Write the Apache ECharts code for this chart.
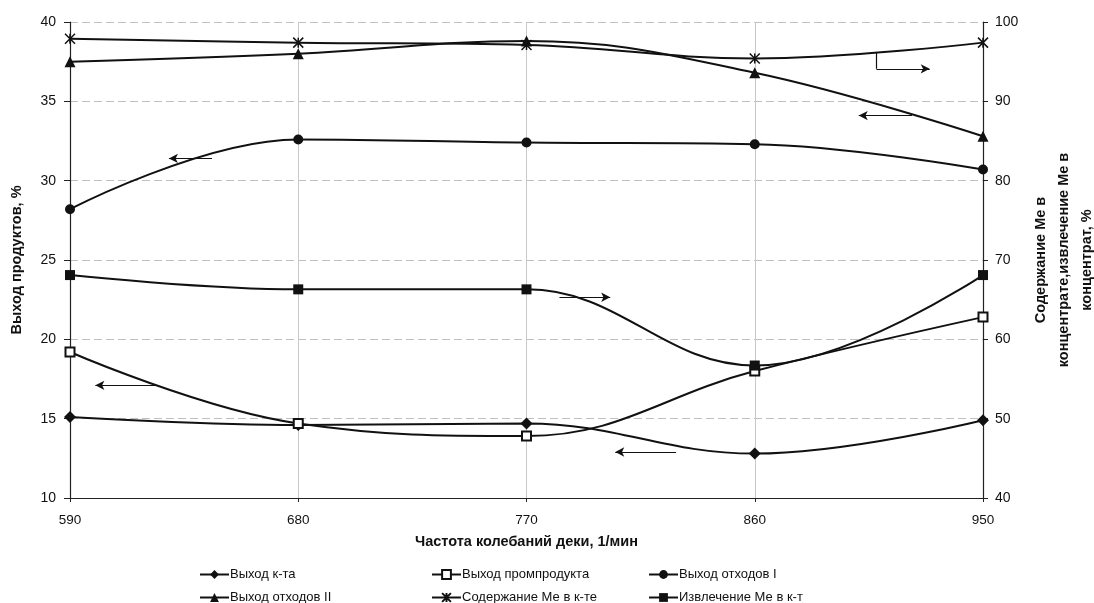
<!DOCTYPE html>
<html><head><meta charset="utf-8">
<script src="https://cdn.jsdelivr.net/npm/echarts@6/dist/echarts.min.js"></script>
<style>html,body{margin:0;padding:0;background:#fff;}#c{width:1094px;height:603px;}</style>
</head><body><div id="c"></div>
<script>
const freq = [590, 680, 770, 860, 950];
const vyhodKta = [15.1, 14.6, 14.7, 12.8, 14.9];
const vyhodProm = [19.2, 14.7, 13.9, 18.0, 21.4];
const vyhodOtkh1 = [28.2, 32.6, 32.4, 32.3, 30.7];
const vyhodOtkh2 = [37.5, 38.0, 38.8, 36.8, 32.8];
const soderzhanie = [97.9, 97.4, 97.1, 95.4, 97.4];
const izvlechenie = [68.1, 66.3, 66.3, 56.7, 68.1];
const names = ['Выход к-та','Выход промпродукта','Выход отходов I','Выход отходов II','Содержание Ме в к-те','Извлечение Ме в к-т'];

// annotation arrows (data coords): [x1,y1,x2,y2]
const arrowLeft = [
  [646, 31.4, 629, 31.4],   // отходы I
  [922, 34.1, 901, 34.1],   // отходы II
  [624, 17.1, 600, 17.1],   // промпродукт
  [829, 12.9, 805, 12.9]    // к-та
];
const arrowRight = [
  [783, 65.3, 803, 65.3],   // извлечение
  [908, 94.1, 929, 94.1]    // содержание
];
const bracketSeg = [[908, 96.2, 908, 94.1]];

const pair = (p) => [{coord:[p[0],p[1]]},{coord:[p[2],p[3]]}];
const zip = (ys) => freq.map((x,i)=>[x, ys[i]]);
const BLK = '#111';
const starPath = 'path://M0,0L10,10M10,0L0,10M5,0L5,10';

function mk(name, data, yIdx, symbol, size, extra) {
  return Object.assign({
    name, type:'line', data: zip(data), yAxisIndex: yIdx, smooth: 0.4,
    symbol, symbolSize: size, showSymbol: true,
    lineStyle:{color:BLK, width:2}, itemStyle:{color:BLK}, z: 3
  }, extra || {});
}
const mlBase = {silent:true, symbolSize:[7,9], label:{show:false}, lineStyle:{color:BLK, width:1.2, type:'solid'}, emphasis:{disabled:true}};

const series = [
  mk(names[0], vyhodKta, 0, 'diamond', 12, {markLine: Object.assign({}, mlBase, {symbol:['none','arrow'], data: arrowLeft.map(pair)})}),
  mk(names[1], vyhodProm, 0, 'emptyRect', 9, {itemStyle:{color:BLK, borderColor:BLK, borderWidth:1.2}}),
  mk(names[2], vyhodOtkh1, 0, 'circle', 10),
  mk(names[3], vyhodOtkh2, 0, 'triangle', 11),
  mk(names[4], soderzhanie, 1, starPath, 10, {itemStyle:{color:'#fff', borderColor:BLK, borderWidth:1.5},
     markLine: Object.assign({}, mlBase, {symbol:['none','none'], data: bracketSeg.map(pair)})}),
  mk(names[5], izvlechenie, 1, 'rect', 10, {markLine: Object.assign({}, mlBase, {symbol:['none','arrow'], data: arrowRight.map(pair)})})
];

const legendCommon = {orient:'vertical', top:568, height:60, padding:0, itemGap:10, itemWidth:29, itemHeight:11,
  textStyle:{fontFamily:'Liberation Sans, Arial', fontSize:13, color:'#111', padding:[0,0,0,-4]}, selectedMode:false};

const chart = echarts.init(document.getElementById('c'), null, {renderer:'canvas'});
chart.setOption({
  animation:false,
  backgroundColor:'#fff',
  textStyle:{fontFamily:'Liberation Sans, Arial'},
  grid:{left:70, right:111, top:22, bottom:105, containLabel:false, outerBoundsMode:'none'},
  xAxis:{type:'value', min:590, max:950, interval:90,
    name:'Частота колебаний деки, 1/мин', nameLocation:'middle', nameGap:36,
    nameTextStyle:{fontWeight:'bold', fontSize:14.5, color:'#111'},
    axisLine:{lineStyle:{color:'#222', width:1.2}},
    axisTick:{show:true, length:4, lineStyle:{color:'#222'}},
    axisLabel:{fontSize:13.5, color:'#111', margin:15},
    splitLine:{show:true, lineStyle:{color:'#c8c8c8', width:1}}},
  yAxis:[
    {type:'value', min:10, max:40, interval:5, position:'left',
     name:'Выход продуктов, %', nameLocation:'middle', nameGap:46, nameRotate:90,
     nameTextStyle:{fontWeight:'bold', fontSize:14.5, color:'#111'},
     axisLine:{show:true, lineStyle:{color:'#222', width:1.2}},
     axisTick:{show:true, length:6, lineStyle:{color:'#222'}},
     axisLabel:{fontSize:14, color:'#111', margin:14},
     splitLine:{show:true, lineStyle:{color:'#c0c0c0', type:[8,4], width:1}}},
    {type:'value', min:40, max:100, interval:10, position:'right',
     name:'Содержание Ме в\nконцентрате,извлечение Ме в\nконцентрат, %', nameLocation:'middle', nameGap:43, nameRotate:90,
     nameTextStyle:{fontWeight:'bold', fontSize:14.5, color:'#111', lineHeight:23, align:'center'},
     axisLine:{show:true, lineStyle:{color:'#222', width:1.2}},
     axisTick:{show:true, length:5, lineStyle:{color:'#222'}},
     axisLabel:{fontSize:14, color:'#111', margin:12},
     splitLine:{show:false}}
  ],
  legend:[
    Object.assign({left:199, data:[names[0], names[3]]}, legendCommon),
    Object.assign({left:431, data:[names[1], names[4]]}, legendCommon),
    Object.assign({left:648, data:[names[2], names[5]]}, legendCommon)
  ],
  series
});
</script></body></html>
